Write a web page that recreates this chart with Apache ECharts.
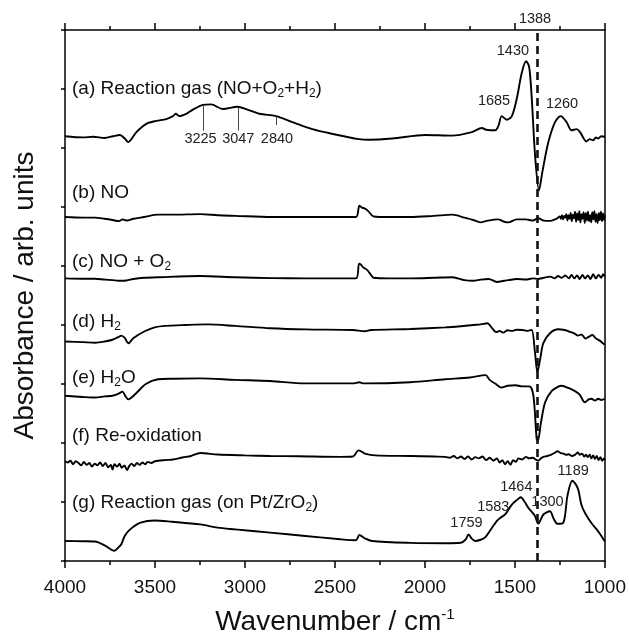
<!DOCTYPE html>
<html>
<head>
<meta charset="utf-8">
<script src="https://cdn.jsdelivr.net/npm/echarts@6/dist/echarts.min.js"></script>
<style>
html,body{margin:0;padding:0;background:#fff;}
#chart{width:629px;height:642px;}
</style>
</head>
<body>
<div id="chart"></div>
<script>
// ---- data (wavenumber / cm-1, absorbance in arb. units incl. stacking offset) ----
const wnA = [4000,3900,3843,3780,3733,3695,3668,3649,3603,3548,3492,3437,3400,3385,3363,3326,3289,3234,3188,3123,3040,2994,2920,2828,2736,2625,2514,2366,2311,2182,1997,1850,1739,1683,1660,1609,1591,1573,1545,1517,1490,1462,1438,1421,1407,1388,1366,1347,1314,1277,1246,1213,1185,1157,1138,1102,1085,1065,1050,1037,1020,1000];
const absA = [7.20,7.18,7.19,7.17,7.20,7.22,7.16,7.10,7.27,7.41,7.46,7.49,7.54,7.58,7.54,7.58,7.65,7.73,7.74,7.66,7.70,7.66,7.58,7.54,7.44,7.32,7.24,7.15,7.14,7.16,7.22,7.21,7.27,7.34,7.31,7.30,7.38,7.54,7.48,7.54,7.83,8.27,8.47,8.38,7.88,6.88,6.28,6.60,7.10,7.44,7.54,7.44,7.30,7.32,7.27,7.11,7.15,7.13,7.18,7.16,7.20,7.19];

const wnB = [4000,3900,3834,3780,3736,3700,3680,3658,3620,3560,3483,3400,3249,3150,3055,2850,2665,2500,2383,2364,2350,2334,2315,2285,2200,2081,1950,1847,1780,1731,1692,1650,1594,1560,1536,1490,1439,1400,1371,1340,1302,1270,1250,1244,1238,1232,1226,1220,1214,1208,1202,1196,1190,1184,1178,1172,1166,1160,1154,1148,1142,1136,1130,1124,1118,1112,1106,1100,1094,1088,1082,1076,1070,1064,1058,1052,1046,1040,1034,1028,1022,1016,1010,1004,1000];
const absB = [5.83,5.82,5.82,5.80,5.78,5.76,5.79,5.77,5.80,5.83,5.87,5.87,5.88,5.86,5.85,5.83,5.83,5.83,5.83,6.02,5.99,5.975,5.93,5.84,5.83,5.83,5.85,5.87,5.82,5.78,5.74,5.77,5.79,5.75,5.74,5.79,5.79,5.77,5.81,5.77,5.765,5.80,5.84,5.80,5.86,5.79,5.85,5.82,5.88,5.77,5.86,5.80,5.90,5.76,5.87,5.81,5.92,5.75,5.89,5.78,5.93,5.74,5.88,5.80,5.91,5.73,5.90,5.77,5.92,5.76,5.86,5.74,5.91,5.79,5.93,5.75,5.88,5.73,5.90,5.78,5.92,5.76,5.89,5.78,5.86];

const wnC = [4000,3900,3834,3780,3736,3700,3658,3620,3560,3483,3249,3055,2850,2665,2383,2366,2355,2344,2320,2300,2285,2200,2081,1950,1847,1780,1731,1690,1646,1600,1560,1536,1490,1439,1400,1371,1340,1302,1280,1260,1240,1220,1200,1185,1170,1155,1140,1125,1110,1095,1080,1065,1050,1035,1020,1010,1000];
const absC = [4.79,4.785,4.785,4.77,4.76,4.75,4.755,4.78,4.80,4.81,4.83,4.81,4.795,4.79,4.79,5.04,5.02,4.98,4.93,4.85,4.80,4.79,4.79,4.80,4.81,4.76,4.75,4.77,4.78,4.73,4.75,4.76,4.78,4.77,4.79,4.78,4.80,4.82,4.79,4.83,4.80,4.84,4.79,4.85,4.79,4.84,4.78,4.85,4.79,4.84,4.78,4.86,4.79,4.85,4.80,4.86,4.82];

const wnD = [4000,3900,3833,3780,3736,3700,3687,3668,3648,3619,3560,3502,3444,3330,3210,3055,2860,2665,2400,2334,2300,2081,1887,1800,1731,1690,1653,1630,1604,1585,1566,1540,1517,1490,1458,1430,1407,1388,1375,1360,1342,1305,1259,1224,1200,1180,1166,1150,1130,1108,1090,1069,1049,1030,1015,1000];
const absD = [3.72,3.71,3.70,3.72,3.75,3.80,3.82,3.78,3.69,3.78,3.89,3.96,3.985,4.00,4.01,3.985,3.945,3.925,3.915,3.895,3.915,3.933,3.96,3.98,4.00,4.01,4.03,3.96,3.88,3.90,3.87,3.91,3.90,3.92,3.915,3.90,3.917,3.524,3.20,3.414,3.692,3.86,3.927,3.915,3.89,3.87,3.85,3.82,3.84,3.77,3.80,3.83,3.77,3.74,3.70,3.665];

const wnE = [4000,3900,3833,3780,3736,3700,3681,3665,3648,3609,3551,3483,3400,3249,3055,2860,2665,2400,2364,2340,2081,1887,1750,1663,1640,1604,1575,1540,1497,1460,1419,1397,1379,1372,1355,1332,1296,1259,1240,1200,1166,1140,1111,1090,1074,1055,1037,1020,1000];
const absE = [2.80,2.78,2.77,2.79,2.80,2.84,2.87,2.80,2.74,2.83,3.00,3.08,3.09,3.095,3.07,3.05,3.01,3.01,3.03,3.01,3.03,3.08,3.11,3.15,3.07,2.995,2.94,2.97,2.98,2.96,2.96,2.80,2.07,2.045,2.35,2.69,2.88,2.955,2.97,2.93,2.88,2.82,2.69,2.74,2.75,2.72,2.75,2.73,2.75];

const wnF = [4000,3985,3970,3955,3940,3925,3910,3895,3880,3865,3850,3835,3820,3805,3790,3775,3760,3745,3736,3725,3710,3697,3685,3670,3655,3645,3630,3615,3600,3585,3570,3555,3541,3520,3500,3444,3400,3347,3300,3249,3152,3000,2860,2700,2470,2400,2369,2350,2334,2276,2081,1950,1887,1860,1840,1820,1800,1780,1760,1740,1720,1700,1680,1660,1640,1620,1600,1585,1570,1555,1540,1525,1510,1495,1480,1460,1439,1420,1400,1385,1371,1355,1342,1320,1300,1280,1264,1245,1230,1215,1200,1185,1166,1150,1140,1127,1115,1105,1095,1085,1075,1065,1055,1045,1035,1025,1015,1005,1000];
const absF = [1.69,1.67,1.70,1.64,1.69,1.66,1.62,1.68,1.63,1.66,1.60,1.65,1.62,1.67,1.61,1.66,1.59,1.63,1.55,1.64,1.60,1.65,1.58,1.62,1.54,1.60,1.65,1.61,1.66,1.63,1.67,1.64,1.68,1.66,1.69,1.71,1.72,1.755,1.78,1.83,1.805,1.79,1.78,1.775,1.765,1.77,1.875,1.85,1.82,1.79,1.78,1.77,1.765,1.75,1.78,1.74,1.77,1.73,1.77,1.72,1.76,1.74,1.77,1.71,1.75,1.70,1.74,1.67,1.71,1.64,1.69,1.63,1.71,1.68,1.74,1.72,1.765,1.74,1.75,1.72,1.70,1.74,1.765,1.78,1.80,1.83,1.86,1.83,1.82,1.80,1.81,1.78,1.80,1.84,1.80,1.82,1.77,1.80,1.76,1.80,1.74,1.79,1.73,1.78,1.71,1.76,1.70,1.74,1.71];

const wnG = [4000,3900,3833,3775,3726,3700,3687,3668,3638,3580,3502,3405,3249,3152,3055,2860,2665,2470,2383,2364,2334,2295,2081,1887,1800,1775,1757,1740,1720,1690,1665,1628,1600,1582,1554,1517,1490,1467,1445,1425,1405,1388,1370,1342,1305,1285,1264,1231,1207,1181,1160,1147,1130,1108,1074,1049,1025,1000];
const absG = [0.34,0.335,0.33,0.256,0.173,0.24,0.285,0.424,0.536,0.649,0.687,0.665,0.62,0.565,0.536,0.481,0.424,0.369,0.352,0.441,0.385,0.34,0.308,0.302,0.31,0.36,0.45,0.38,0.34,0.36,0.40,0.56,0.68,0.73,0.79,0.955,1.03,1.08,1.00,0.90,0.83,0.76,0.632,0.788,0.843,0.72,0.632,0.649,1.12,1.36,1.29,1.20,0.95,0.80,0.64,0.55,0.45,0.33];

// trace names
const traceNames = ['(a) Reaction gas (NO+O{s|2}+H{s|2})','(b) NO','(c) NO + O{s|2}','(d) H{s|2}','(e) H{s|2}O','(f) Re-oxidation','(g) Reaction gas (on Pt/ZrO{s|2})'];
const traceNameWn = [3961,3961,3961,3961,3961,3961,3961];
const traceNameAbs = [8.011,6.234,5.078,4.056,3.105,2.128,0.984];

// peak annotations
const peakText = ['1388','1430','1685','1260','3225','3047','2840','1189','1464','1300','1583','1759'];
const peakWn   = [1388,1511,1616,1238,3247,3037,2822,1176,1492,1319,1620,1769];
const peakAbs  = [9.18,8.636,7.798,7.751,7.156,7.156,7.156,1.525,1.262,1.0,0.917,0.637];

// leader ticks under the (a) labels: [wn, top, bottom]
const leaderWn = [3230,3040,2828];
const leaderTop = [7.714,7.684,7.536];
const leaderBottom = [7.295,7.295,7.389];

// dashed reference line position
const refLineWn = 1375;

const FONT = '"Liberation Sans", Arial, Helvetica, sans-serif';
const TXT = '#111';

function pairs(x, y){ return x.map((v,i)=>[v, y[i]]); }

const traces = [[wnA,absA],[wnB,absB],[wnC,absC],[wnD,absD],[wnE,absE],[wnF,absF],[wnG,absG]];
const series = traces.map((t, i) => ({
  type: 'line',
  data: pairs(t[0], t[1]),
  showSymbol: false,
  smooth: 0.3,
  silent: true,
  lineStyle: {color: '#000', width: 1.9},
  z: 3
}));

series[0].markLine = {
  silent: true, symbol: ['none','none'],
  label: {show: false},
  lineStyle: {color: '#444', width: 1, type: 'solid'},
  data: leaderWn.map((w,i)=>[{coord:[w, leaderTop[i]]},{coord:[w, leaderBottom[i]]}])
};
series[6].markLine = {
  silent: true, symbol: ['none','none'],
  label: {show: false},
  lineStyle: {color: '#111', width: 2.6, type: [8,5]},
  data: [{xAxis: refLineWn}]
};

series.push({
  type: 'scatter',
  symbolSize: 0,
  clip: false,
  silent: true,
  itemStyle: {opacity: 1},
  data: traceNames.map((n,i)=>({value:[traceNameWn[i], traceNameAbs[i]], name:n})),
  label: {
    show: true, position: 'right', distance: 0,
    formatter: p => p.name,
    fontFamily: FONT, fontSize: 19, lineHeight: 22, color: TXT,
    rich: {s: {fontFamily: FONT, fontSize: 12, lineHeight: 10, verticalAlign: 'bottom', color: TXT}}
  },
  z: 5
});
series.push({
  type: 'scatter',
  symbolSize: 0,
  clip: false,
  silent: true,
  itemStyle: {opacity: 1},
  data: peakText.map((n,i)=>({value:[peakWn[i], peakAbs[i]], name:n})),
  label: {
    show: true, position: 'inside',
    formatter: p => p.name,
    fontFamily: FONT, fontSize: 14.5, color: '#222'
  },
  z: 5
});

const axisLineStyle = {color: '#000', width: 1.5};
const option = {
  animation: false,
  backgroundColor: '#fff',
  grid: {left: 65, right: 22, top: 30, bottom: 75},
  xAxis: [
    {
      type: 'value', min: 1000, max: 4000, interval: 500, inverse: true, position: 'bottom',
      axisLine: {show: true, onZero: false, lineStyle: axisLineStyle},
      axisTick: {show: true, inside: false, length: 7, lineStyle: axisLineStyle},
      minorTick: {show: true, splitNumber: 2, length: 4, lineStyle: axisLineStyle},
      axisLabel: {show: true, margin: 17, fontSize: 19, color: TXT, fontFamily: FONT, formatter: v => String(v)},
      splitLine: {show: false}, minorSplitLine: {show: false},
      name: 'Wavenumber / cm{sup|-1}', nameLocation: 'middle', nameGap: 46,
      nameTextStyle: {fontFamily: FONT, fontSize: 28, lineHeight: 30, color: TXT,
        rich: {sup: {fontFamily: FONT, fontSize: 15, lineHeight: 20, verticalAlign: 'top', color: TXT}}}
    },
    {
      type: 'value', min: 1000, max: 4000, interval: 500, inverse: true, position: 'top',
      axisLine: {show: true, onZero: false, lineStyle: axisLineStyle},
      axisTick: {show: true, inside: false, length: 7, lineStyle: axisLineStyle},
      minorTick: {show: true, splitNumber: 2, length: 4, lineStyle: axisLineStyle},
      axisLabel: {show: false},
      splitLine: {show: false}, minorSplitLine: {show: false}
    }
  ],
  yAxis: [
    {
      type: 'value', min: 0, max: 9, interval: 1, position: 'left',
      axisLine: {show: true, onZero: false, lineStyle: axisLineStyle},
      axisTick: {show: true, inside: false, length: 4, lineStyle: axisLineStyle},
      axisLabel: {show: false},
      splitLine: {show: false},
      name: 'Absorbance / arb. units', nameLocation: 'middle', nameGap: 25,
      nameTextStyle: {fontFamily: FONT, fontSize: 28, lineHeight: 30, color: TXT}
    },
    {
      type: 'value', min: 0, max: 9, interval: 1, position: 'right',
      axisLine: {show: true, onZero: false, lineStyle: axisLineStyle},
      axisTick: {show: false}, axisLabel: {show: false}, splitLine: {show: false}
    }
  ],
  series: series
};

const chart = echarts.init(document.getElementById('chart'), null, {renderer: 'canvas'});
chart.setOption(option);
</script>
</body>
</html>
